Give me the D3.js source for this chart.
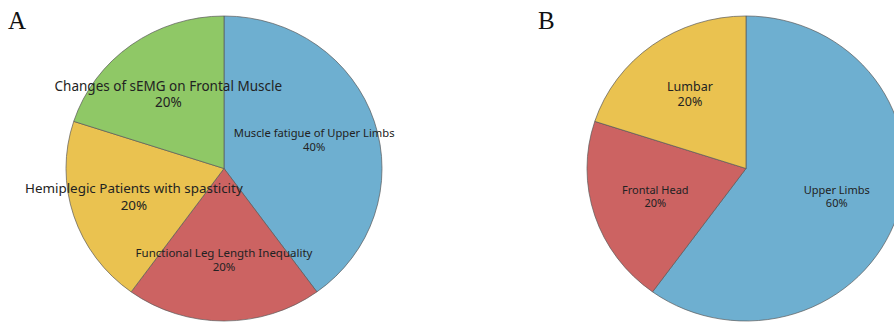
<!DOCTYPE html>
<html>
<head>
<meta charset="utf-8">
<script src="https://cdn.jsdelivr.net/npm/d3@7/dist/d3.min.js"></script>
<style>
  html, body { margin: 0; padding: 0; background: #fff; }
  svg { display: block; }
</style>
</head>
<body>
<svg id="chart" width="894" height="325"></svg>
<script>
// Study categories and their shares (percent)
const labelsA = ["Muscle fatigue of Upper Limbs", "Functional Leg Length Inequality", "Hemiplegic Patients with spasticity", "Changes of sEMG on Frontal Muscle"];
const valuesA = [40, 20, 20, 20];
const labelsB = ["Upper Limbs", "Frontal Head", "Lumbar"];
const valuesB = [60, 20, 20];

const colorsA = ["#6eafd0", "#cc6362", "#eac250", "#8fc866"];
const colorsB = ["#6eafd0", "#cc6362", "#eac250"];
const fontSizesA = [11.2, 11.5, 13.4, 13.5];
const fontSizesB = [11, 11, 12.5];

const svg = d3.select("#chart");

function drawPie(cfg) {
  const { cx, cy, rx, ry, labels, values, colors, fontSizes, letter, letterX } = cfg;
  const data = labels.map((l, i) => ({ label: l, value: values[i], color: colors[i], fs: fontSizes[i] }));
  const pie = d3.pie().sort(null).value(d => d.value);
  const arcs = pie(data);
  const arc = d3.arc().innerRadius(0).outerRadius(rx);
  const labelArc = d3.arc().innerRadius(rx * 0.6).outerRadius(rx * 0.6);
  const sy = ry / rx;

  // slices, drawn on a circle then flattened vertically into an ellipse
  const g = svg.append("g").attr("transform", `translate(${cx},${cy}) scale(1,${sy})`);
  g.selectAll("path").data(arcs).join("path")
    .attr("d", arc)
    .attr("fill", d => d.data.color)
    .attr("stroke", "#5a5a5a")
    .attr("stroke-width", 0.7)
    .attr("vector-effect", "non-scaling-stroke");

  // category name and percentage at each slice centroid
  const lg = svg.append("g").attr("transform", `translate(${cx},${cy})`);
  arcs.forEach(d => {
    const [x, y] = labelArc.centroid(d);
    const t = lg.append("text")
      .attr("x", x)
      .attr("y", y * sy)
      .attr("text-anchor", "middle")
      .attr("font-family", "'Noto Sans', 'DejaVu Sans', sans-serif")
      .attr("font-size", d.data.fs)
      .attr("fill", "#222");
    t.append("tspan").attr("x", x).attr("dy", "-0.25em").text(d.data.label);
    t.append("tspan").attr("x", x).attr("dy", "1.2em").text(d.data.value + "%");
  });

  svg.append("text")
    .attr("x", letterX)
    .attr("y", 29)
    .attr("font-family", "'Liberation Serif', 'Times New Roman', serif")
    .attr("font-size", 25)
    .attr("fill", "#111")
    .text(letter);
}

drawPie({ cx: 224, cy: 168.5, rx: 158, ry: 152.5, labels: labelsA, values: valuesA, colors: colorsA, fontSizes: fontSizesA, letter: "A", letterX: 8 });
drawPie({ cx: 746, cy: 168.5, rx: 159, ry: 152.5, labels: labelsB, values: valuesB, colors: colorsB, fontSizes: fontSizesB, letter: "B", letterX: 538 });
</script>
</body>
</html>
